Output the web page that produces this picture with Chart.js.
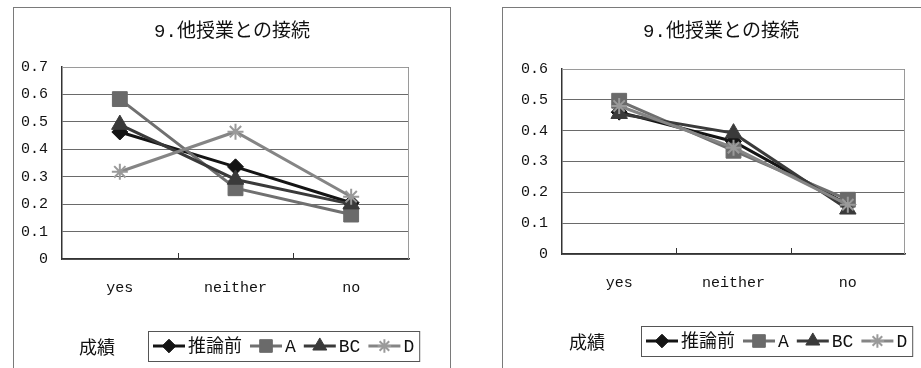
<!DOCTYPE html>
<html>
<head>
<meta charset="utf-8">
<script src="https://cdn.jsdelivr.net/npm/chart.js@4.4.1/dist/chart.umd.min.js"></script>
<style>
  html, body { margin: 0; padding: 0; background: #fff; width: 921px; height: 368px; overflow: hidden; position: relative; }
  .panel { position: absolute; top: 7px; width: 438px; height: 370px; border: 1px solid #7a7a7a; box-sizing: border-box; background: #fff; }
  #p1 { left: 13px; }
  #p2 { left: 502px; }
  .panel canvas { display: block; }
</style>
</head>
<body>
<div class="panel" id="p1"><canvas id="c1" width="436" height="368"></canvas></div>
<div class="panel" id="p2"><canvas id="c2" width="436" height="368"></canvas></div>
<script>
// Categories and series for both panels
const categories = ['yes', 'neither', 'no'];
const seriesNames = ['推論前', 'A', 'BC', 'D'];
const legendTitle = '成績';
const chartTitle = '9.他授業との接続';

// Left panel
const leftPre = [0.463, 0.336, 0.205];
const leftA   = [0.583, 0.258, 0.162];
const leftBC  = [0.490, 0.290, 0.200];
const leftD   = [0.318, 0.464, 0.227];
const leftYMax = 0.7;

// Right panel
const rightPre = [0.460, 0.365, 0.160];
const rightA   = [0.497, 0.335, 0.176];
const rightBC  = [0.455, 0.392, 0.145];
const rightD   = [0.480, 0.345, 0.160];
const rightYMax = 0.6;

const yStep = 0.1;

const LATIN = "'Liberation Mono'";
const CJK = "'Noto Sans CJK JP'";
const FONT_FAMILY = LATIN + ', ' + CJK;
const TEXT = '#111';

const seriesStyle = [
  { color: '#141414', pointColor: '#141414', pointStyle: 'rectRot', radius: 8, order: 4 },
  { color: '#707070', pointColor: '#6a6a6a', pointStyle: 'rect', radius: 10.5, order: 3 },
  { color: '#3a3a3a', pointColor: '#3a3a3a', pointStyle: 'triangle', radius: 9.5, order: 2 },
  { color: '#858585', pointColor: '#9a9a9a', pointStyle: 'star', radius: 8, order: 1 }
];

function makeDatasets(values) {
  return values.map((data, i) => {
    const s = seriesStyle[i];
    return {
      label: seriesNames[i],
      data: data,
      borderColor: s.color,
      backgroundColor: s.pointColor,
      borderWidth: 3,
      pointStyle: s.pointStyle,
      pointRadius: s.radius,
      pointHoverRadius: s.radius,
      pointBackgroundColor: s.pointColor,
      pointBorderColor: s.pointColor,
      pointBorderWidth: s.pointStyle === 'star' ? 2 : 1,
      order: s.order,
      tension: 0,
      fill: false
    };
  });
}

// Title, plot frame, inside tick marks between categories, and the boxed legend
const framePlugin = {
  id: 'frameLegend',
  beforeDatasetsDraw(chart) {
    const { ctx, chartArea: a } = chart;
    ctx.save();
    ctx.strokeStyle = '#9a9a9a';
    ctx.lineWidth = 1;
    ctx.beginPath();
    ctx.moveTo(a.left, a.top + 0.5);
    ctx.lineTo(a.right - 0.5, a.top + 0.5);
    ctx.lineTo(a.right - 0.5, a.bottom);
    ctx.stroke();
    const xs = chart.scales.x;
    ctx.strokeStyle = '#333';
    ctx.lineWidth = 1;
    ctx.beginPath();
    for (let i = 0; i < categories.length - 1; i++) {
      const px = Math.round((xs.getPixelForValue(i) + xs.getPixelForValue(i + 1)) / 2) + 0.5;
      ctx.moveTo(px, a.bottom);
      ctx.lineTo(px, a.bottom - 6);
    }
    ctx.stroke();
    ctx.restore();
  },
  afterDraw(chart, args, opts) {
    const { ctx, chartArea: a } = chart;
    ctx.save();
    // chart title, centred on the whole panel
    ctx.fillStyle = TEXT;
    ctx.textAlign = 'center';
    ctx.textBaseline = 'middle';
    ctx.font = '19px ' + FONT_FAMILY;
    ctx.fillText(chartTitle, chart.width / 2, opts.titleY);

    const top = a.bottom + 72;
    const h = 30;
    const cy = top + h / 2;
    ctx.textAlign = 'left';
    ctx.font = '18px ' + CJK;
    ctx.fillText(legendTitle, opts.titleLeft, cy + 1);

    ctx.font = '18px ' + FONT_FAMILY;
    const seg = 32, gapSeg = 3, gapItem = 8, pad = 5;
    const widths = chart.data.datasets.map(d => ctx.measureText(d.label).width);
    let total = pad * 2;
    widths.forEach((w, i) => { total += seg + gapSeg + w + (i < widths.length - 1 ? gapItem : 0); });
    const left = opts.boxLeft;
    ctx.strokeStyle = '#555';
    ctx.lineWidth = 1;
    ctx.strokeRect(left + 0.5, top + 0.5, total, h);

    let x = left + pad;
    chart.data.datasets.forEach((d, i) => {
      ctx.strokeStyle = d.borderColor;
      ctx.lineWidth = 3;
      ctx.beginPath();
      ctx.moveTo(x, cy);
      ctx.lineTo(x + seg, cy);
      ctx.stroke();
      ctx.fillStyle = d.pointBackgroundColor;
      ctx.strokeStyle = d.pointBorderColor;
      ctx.lineWidth = d.pointBorderWidth;
      Chart.helpers.drawPoint(ctx, {
        pointStyle: d.pointStyle,
        radius: d.pointRadius * 0.85,
        rotation: 0,
        borderWidth: d.pointBorderWidth
      }, x + seg / 2, cy);
      ctx.fillStyle = TEXT;
      ctx.fillText(d.label, x + seg + gapSeg, cy + 1);
      x += seg + gapSeg + widths[i] + gapItem;
    });
    ctx.restore();
  }
};

function makeChart(id, values, yMax, cfg) {
  return new Chart(document.getElementById(id), {
    type: 'line',
    data: { labels: categories, datasets: makeDatasets(values) },
    plugins: [framePlugin],
    options: {
      responsive: false,
      animation: false,
      events: [],
      layout: { padding: { left: 0, right: cfg.padRight, top: cfg.padTop, bottom: 0 } },
      plugins: {
        legend: { display: false },
        tooltip: { enabled: false },
        title: { display: false },
        frameLegend: { titleY: 24, titleLeft: cfg.legendTitleLeft, boxLeft: cfg.legendBoxLeft }
      },
      scales: {
        x: {
          type: 'category',
          offset: true,
          grid: { display: false, drawTicks: false },
          border: { display: true, color: '#333', width: 1.5 },
          ticks: { color: TEXT, padding: 20, font: { family: FONT_FAMILY, size: 15 } },
          afterFit(s) { s.height = cfg.xHeight; }
        },
        y: {
          min: 0,
          max: yMax,
          ticks: {
            stepSize: yStep,
            color: TEXT,
            padding: 14,
            font: { family: FONT_FAMILY, size: 15 },
            callback: v => (Math.abs(v) < 1e-9 ? '0' : v.toFixed(1))
          },
          grid: { color: '#6a6a6a', lineWidth: 1, drawTicks: false },
          border: { display: true, color: '#333', width: 1.5 },
          afterFit(s) { s.width = cfg.yWidth; }
        }
      }
    }
  });
}

makeChart('c1', [leftPre, leftA, leftBC, leftD], leftYMax, {
  padRight: 41, padTop: 59, yWidth: 48, xHeight: 117,
  legendTitleLeft: 65, legendBoxLeft: 134
});
makeChart('c2', [rightPre, rightA, rightBC, rightD], rightYMax, {
  padRight: 34, padTop: 61, yWidth: 59, xHeight: 122,
  legendTitleLeft: 66, legendBoxLeft: 138
});
</script>
</body>
</html>
